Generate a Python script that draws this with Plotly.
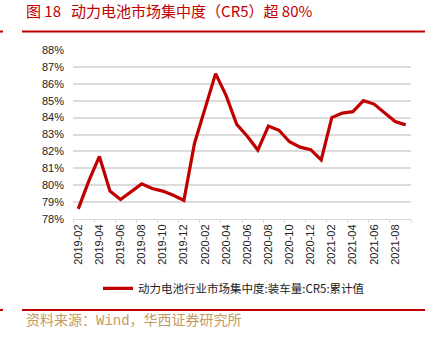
import plotly.graph_objects as go

# Monthly CR5 share of power-battery installations (cumulative), %
months = [
    "2019-02", "2019-03", "2019-04", "2019-05", "2019-06", "2019-07", "2019-08", "2019-09",
    "2019-10", "2019-11", "2019-12", "2020-01", "2020-02", "2020-03", "2020-04", "2020-05",
    "2020-06", "2020-07", "2020-08", "2020-09", "2020-10", "2020-11", "2020-12", "2021-01",
    "2021-02", "2021-03", "2021-04", "2021-05", "2021-06", "2021-07", "2021-08", "2021-09",
]
cr5 = [
    78.6, 80.25, 81.7, 79.65, 79.15, 79.63, 80.08, 79.8,
    79.65, 79.4, 79.1, 82.47, 84.55, 86.6, 85.3, 83.6,
    82.9, 82.08, 83.5, 83.25, 82.57, 82.25, 82.1, 81.5,
    84.0, 84.27, 84.35, 85.0, 84.8, 84.27, 83.77, 83.57,
]
y_ticks = [78, 79, 80, 81, 82, 83, 84, 85, 86, 87, 88]

title_text = "图 18   动力电池市场集中度（CR5）超 80%"
series_name = "动力电池行业市场集中度:装车量:CR5:累计值"
source_text = "资料来源：Wind，华西证券研究所"

RED = "#c00000"
W, H = 437, 339
L, R, T, B = 73, 26, 50, 119.5
pw, ph = W - L - R, H - T - B


def px(x):
    return (x - L) / pw


def py(y):
    return (H - B - y) / ph


fig = go.Figure()
fig.add_trace(go.Scatter(
    x=months, y=cr5, mode="lines", name=series_name,
    line=dict(color=RED, width=3.2),
))

fig.update_layout(
    width=W, height=H,
    margin=dict(l=L, r=R, t=T, b=B, pad=0),
    paper_bgcolor="white", plot_bgcolor="white",
    font=dict(family="Liberation Sans, Arial, sans-serif", size=11, color="#222"),
    showlegend=True,
    legend=dict(
        orientation="h", x=px(98), y=py(289), xanchor="left", yanchor="middle",
        font=dict(family="Noto Sans CJK SC", size=11.5, color="#222"),
        bgcolor="rgba(0,0,0,0)", itemwidth=30,
    ),
    xaxis=dict(
        type="category", tickmode="linear", tick0=0, dtick=2,
        tickson="boundaries", tickangle=-90,
        showgrid=False, showline=True, linecolor="#d9d9d9", linewidth=1,
        ticks="outside", ticklen=3, tickcolor="#d9d9d9",
        tickfont=dict(size=11, color="#222"),
        range=[-0.5, len(months) - 0.5],
    ),
    yaxis=dict(
        range=[78, 88], tickvals=y_ticks, ticktext=[f"{v}%" for v in y_ticks],
        showgrid=True, gridcolor="#dcdcdc", gridwidth=1.5,
        zeroline=False, showline=False, ticks="", ticklabelstandoff=8,
        tickfont=dict(size=11, color="#222"),
    ),
)

# Header and footer rules
for yy in (31.5, 310.7):
    fig.add_shape(type="line", xref="paper", yref="paper",
                  x0=px(22), x1=px(425), y0=py(yy), y1=py(yy),
                  line=dict(color=RED, width=2))
    fig.add_shape(type="line", xref="paper", yref="paper",
                  x0=px(0), x1=px(3), y0=py(yy), y1=py(yy),
                  line=dict(color=RED, width=2))

fig.add_annotation(
    text=title_text, xref="paper", yref="paper", x=px(24), y=py(10),
    xanchor="left", yanchor="middle", showarrow=False,
    font=dict(family="Noto Sans CJK SC", size=15, color=RED),
)
fig.add_annotation(
    text=source_text, xref="paper", yref="paper", x=px(24), y=py(322),
    xanchor="left", yanchor="middle", showarrow=False,
    font=dict(family="Liberation Mono, Noto Sans CJK SC", size=14, color="#c49a64"),
)

fig.write_html("out.html")
